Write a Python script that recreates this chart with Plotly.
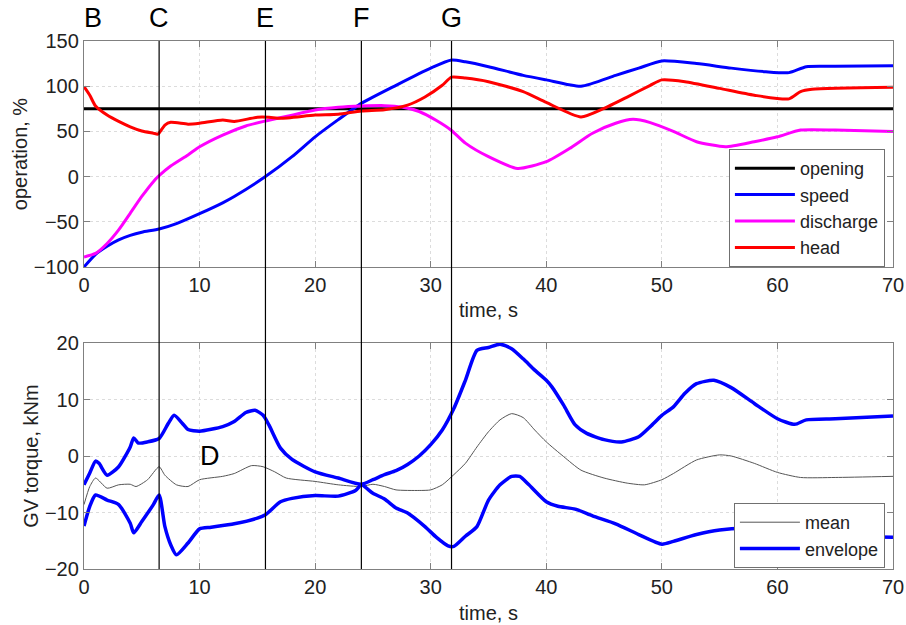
import plotly.graph_objects as go

# ---------------- data: top panel (operation, %) ----------------
t_open = [0, 70]
opening = [75, 75]

t_speed = [0, 1, 2, 3, 4, 5, 6.5, 8, 10, 12, 13, 15.7, 18, 20, 22, 24, 27, 30, 31.8, 33,
           35, 38, 40, 43, 46, 48, 50, 53, 56, 59, 61, 62.5, 65, 70]
speed = [-100, -86, -77, -70, -65, -61.5, -58, -52, -41, -29, -22, 0, 22, 44, 63, 81, 101, 120, 129, 127,
         121.6, 112, 107, 100, 112, 120, 128, 125, 120, 116, 115, 121.6, 122, 122.7]

t_dis = [0, 1, 2, 3, 4, 5, 6, 6.5, 7.5, 9, 10, 12, 14, 15.7, 18, 20, 22, 24, 26, 27.5,
         29, 30.5, 31.8, 33, 35, 37.5, 40, 42, 44, 46, 47.5, 49, 51, 53, 55.5, 58, 60, 62, 65, 70]
discharge = [-89, -85, -74, -59, -40.6, -22, -5.6, 1, 11.7, 24, 33, 46, 56, 61.5, 68, 73.7, 76.6, 78, 78.5, 77,
             72, 62, 51, 37, 22, 9, 16.5, 31, 48, 59, 63.3, 59.7, 50, 38.6, 33, 38.6, 44, 51.5, 51.5, 50]

t_head = [0, 0.5, 1, 2, 3, 4, 5, 6, 6.4, 7, 7.5, 9, 10, 12, 13, 15, 16, 17, 20, 22,
          24, 26, 28, 29.5, 31, 31.8, 33, 35, 38, 40, 43, 45, 47, 49, 50, 52, 55, 58, 61, 62, 63, 70]
head = [99.5, 90, 78, 68, 61, 55, 50.4, 48, 47, 57, 60, 58, 59, 62.6, 61, 65.6, 65.6, 64.5, 68, 69,
        72.6, 74, 79, 88, 101, 110, 109, 105, 94, 82, 66, 75.5, 88, 101, 107, 105, 97.6, 90, 86, 94, 96.5, 98.7]

# ---------------- data: bottom panel (GV torque, kNm) ----------------
t_mean = [0, 0.5, 1, 2, 3, 4, 4.5, 5.5, 6.5, 7, 8, 9, 10, 12, 13, 14.5, 15.5, 16.5, 17.5, 20,
          22, 24, 25, 26, 27, 29, 30, 31, 32, 33, 34, 35, 36, 37, 38, 39, 40, 41.5, 43, 45,
          47, 48.5, 50, 51, 53, 55, 56, 58, 60, 62, 65, 70]
mean = [-8.6, -5.4, -3.9, -5.7, -5.1, -5, -5.4, -4.2, -1.9, -3.4, -5.1, -5.4, -4.2, -3.6, -3.1, -1.7, -1.9, -2.8, -3.9, -4.5,
        -5.1, -5.4, -5, -5.4, -6, -6.1, -6, -5.1, -3.3, -1.3, 1.6, 4.3, 6.4, 7.5, 6.8, 4.6, 2.5, -0.1, -2.5, -3.9,
        -4.8, -5.1, -4.2, -3.1, -0.7, 0.2, 0, -1.3, -2.9, -3.8, -3.8, -3.6]

t_env_up = [0, 0.5, 1, 1.3, 2, 3, 4, 4.3, 4.7, 5.5, 6.5, 7.3, 7.8, 8.5, 9, 10, 12, 13, 14, 14.8,
            15.5, 16, 17, 18, 20, 22, 24, 25, 26, 27, 28, 29, 30, 31, 32, 33, 34, 35, 36, 37,
            38, 39, 40, 40.5, 41.5, 42.5, 43.5, 45, 46.5, 48, 49, 50, 51, 52, 53, 54.5, 56, 58, 60, 61.5,
            62.5, 65, 70]
env_up = [-5.1, -3, -0.9, -1.3, -3.4, -1.9, 1.6, 3.2, 2.3, 2.5, 3.1, 5.8, 7.2, 5.8, 4.7, 4.4, 5.2, 6.1, 7.7, 8.1,
          7.2, 5.5, 1.4, -0.6, -2.8, -3.9, -5.0, -4.2, -3.3, -2.6, -1.5, 0, 2, 4.6, 8.4, 13.4, 18.7, 19.2, 19.8, 19,
          17.2, 15.2, 13.4, 12.2, 9, 5.5, 4, 2.9, 2.5, 3.4, 5.2, 7.2, 8.7, 11.1, 12.8, 13.4, 12.1, 9.3, 6.6, 5.6,
          6.4, 6.6, 7.1]

t_env_lo = [0, 0.5, 1, 2, 3, 4, 4.3, 5, 6, 6.5, 7, 7.5, 8, 9, 10, 11, 13, 15, 15.7, 17,
            18, 20, 22, 23.5, 24, 25, 26, 27, 28, 29.5, 30.5, 31.5, 32, 33, 34, 35, 36, 37, 37.7, 38.5,
            40, 41, 42.5, 44, 46, 48, 50, 51, 53, 55, 57, 60, 62, 65, 70]
env_lo = [-12.4, -8.9, -6.9, -7.8, -8.6, -11.9, -13.6, -11.6, -8.6, -6.9, -12.5, -15.7, -17.5, -15.4, -12.9, -12.6, -12, -11, -10.4, -8.1,
          -7.5, -7, -7.1, -6.1, -5.1, -6.6, -7.6, -9.2, -10.1, -12.5, -14.4, -15.9, -16, -14.2, -12.5, -7.8, -5.1, -3.6, -3.6, -5.1,
          -8.1, -8.9, -9.4, -10.6, -12, -13.9, -15.6, -15.1, -13.9, -13.1, -12.8, -13.3, -14, -14.2, -14.4]

# event markers
event_t = [6.5, 15.7, 24.0, 31.8]
event_labels = ["C", "E", "F", "G"]
start_label_t = 0.8
start_label = "B"
d_label_t, d_label_v = 10.9, 0
d_label = "D"

# ---------------- figure ----------------
FONT = "Arial, Liberation Sans, Helvetica, sans-serif"
TXT = "#222222"
fig = go.Figure()

fig.add_trace(go.Scatter(x=t_open, y=opening, name="opening", mode="lines",
                         line=dict(color="#000000", width=3), xaxis="x", yaxis="y", legend="legend"))
fig.add_trace(go.Scatter(x=t_speed, y=speed, name="speed", mode="lines",
                         line=dict(color="#0000ff", width=3, shape="spline", smoothing=0.6),
                         xaxis="x", yaxis="y", legend="legend"))
fig.add_trace(go.Scatter(x=t_dis, y=discharge, name="discharge", mode="lines",
                         line=dict(color="#ff00ff", width=3, shape="spline", smoothing=0.6),
                         xaxis="x", yaxis="y", legend="legend"))
fig.add_trace(go.Scatter(x=t_head, y=head, name="head", mode="lines",
                         line=dict(color="#ff0000", width=3, shape="spline", smoothing=0.6),
                         xaxis="x", yaxis="y", legend="legend"))

fig.add_trace(go.Scatter(x=t_mean, y=mean, name="mean", mode="lines",
                         line=dict(color="#555555", width=1, shape="spline", smoothing=0.6),
                         xaxis="x2", yaxis="y2", legend="legend2"))
fig.add_trace(go.Scatter(x=t_env_up, y=env_up, name="envelope", mode="lines", legendgroup="env",
                         line=dict(color="#0000ff", width=3.5, shape="spline", smoothing=0.6),
                         xaxis="x2", yaxis="y2", legend="legend2"))
fig.add_trace(go.Scatter(x=t_env_lo, y=env_lo, name="envelope", mode="lines", legendgroup="env",
                         showlegend=False,
                         line=dict(color="#0000ff", width=3.5, shape="spline", smoothing=0.6),
                         xaxis="x2", yaxis="y2", legend="legend2"))

# vertical event lines across both panels
for t in event_t:
    fig.add_shape(type="line", xref="x", yref="paper", x0=t, x1=t, y0=0, y1=1,
                  line=dict(color="#000000", width=1.2))

# letters above
for t, lab in zip([start_label_t] + event_t, [start_label] + event_labels):
    fig.add_annotation(x=t, y=1.0436, xref="x", yref="paper", text=lab, showarrow=False,
                       font=dict(family=FONT, size=27, color="#000000"),
                       xanchor="center", yanchor="middle")
fig.add_annotation(x=d_label_t, y=d_label_v, xref="x2", yref="y2", text=d_label, showarrow=False,
                   font=dict(family=FONT, size=27, color="#000000"), xanchor="center", yanchor="middle")

axis_common = dict(showline=True, linecolor="#808080", linewidth=1.3, mirror="ticks",
                   ticks="inside", ticklen=6, tickcolor="#808080", automargin=False,
                   showgrid=True, gridcolor="#dcdcdc", griddash="dot", gridwidth=1,
                   zeroline=False, tickfont=dict(family=FONT, size=20, color=TXT))

legend_common = dict(xanchor="right", yanchor="top", bgcolor="white",
                     bordercolor="#707070", borderwidth=1, font=dict(family=FONT, size=18, color=TXT),
                     tracegroupgap=0, itemwidth=60)

fig.update_layout(
    template="none",
    width=906, height=625,
    margin=dict(l=84, r=13, t=41, b=56),
    paper_bgcolor="white", plot_bgcolor="white",
    font=dict(family=FONT, size=20, color=TXT),
    xaxis=dict(domain=[0, 1], anchor="y", range=[0, 70], tickvals=[0, 10, 20, 30, 40, 50, 60, 70],
               title=dict(text="time, s", standoff=7, font=dict(size=20)), **axis_common),
    yaxis=dict(domain=[0.572, 1], anchor="x", range=[-100, 150], tickvals=[-100, -50, 0, 50, 100, 150],
               title=dict(text="operation, %", standoff=0, font=dict(size=20)), **axis_common),
    xaxis2=dict(domain=[0, 1], anchor="y2", range=[0, 70], tickvals=[0, 10, 20, 30, 40, 50, 60, 70],
                title=dict(text="time, s", standoff=8, font=dict(size=20)), **axis_common),
    yaxis2=dict(domain=[0, 0.428], anchor="x2", range=[-20, 20], tickvals=[-20, -10, 0, 10, 20],
                title=dict(text="GV torque, kNm", standoff=0, font=dict(size=20)), **axis_common),
    legend=dict(x=0.990, y=0.7955, **legend_common),
    legend2=dict(x=0.990, y=0.125, **legend_common),
    showlegend=True,
)

# remove the browser's default 8px page margin so the figure sits at the window origin
fig.write_html("out.html", config={"displayModeBar": False},
               post_script="document.body.style.margin='0';document.documentElement.style.overflow='hidden';")
